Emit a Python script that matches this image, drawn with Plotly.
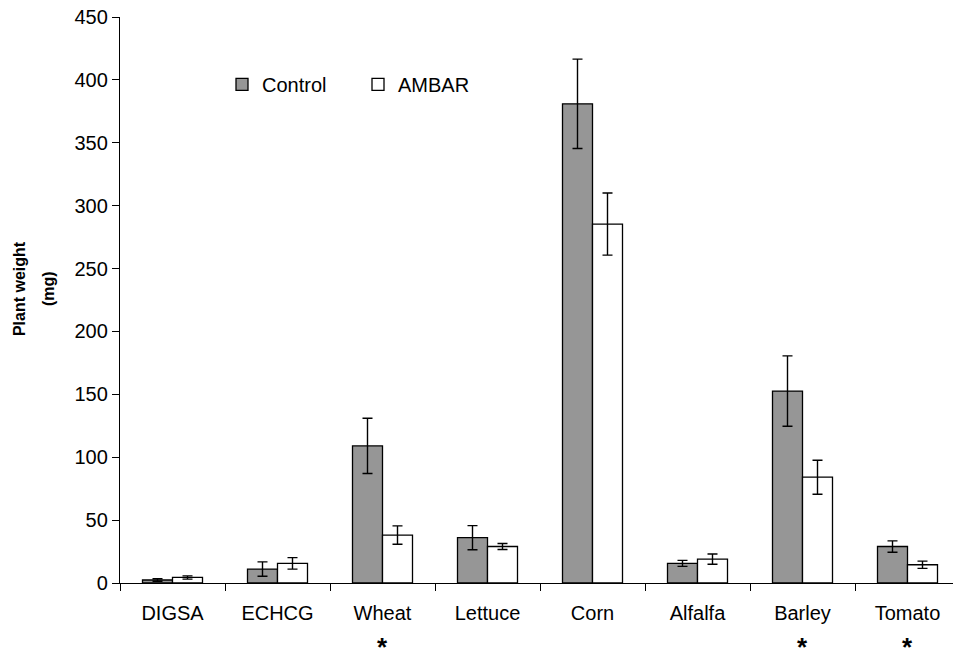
import plotly.graph_objects as go

# Plant weight (mg) per species, control vs AMBAR treatment, with error bars
species = ["DIGSA", "ECHCG", "Wheat", "Lettuce", "Corn", "Alfalfa", "Barley", "Tomato"]
control_mean = [2.4, 11.1, 109.0, 36.0, 381.0, 15.6, 152.6, 29.0]
control_err = [1.0, 5.7, 22.0, 9.6, 35.5, 2.4, 28.0, 4.5]
ambar_mean = [4.4, 15.6, 38.1, 29.0, 285.4, 19.0, 84.1, 14.5]
ambar_err = [1.3, 4.6, 7.3, 2.4, 24.7, 4.1, 13.5, 2.9]
significant = ["Wheat", "Barley", "Tomato"]
y_ticks = [0, 50, 100, 150, 200, 250, 300, 350, 400, 450]

FONT = "Liberation Sans, Arial, sans-serif"
W, H = 953, 652
ML, MR, MT, MB = 120, 0, 16.5, 68.7
plot_w = W - ML - MR
plot_h = H - MT - MB
cat_px = 105.0  # width of one category slot

err_style = dict(type="data", visible=True, color="black", thickness=1.4, width=5)

fig = go.Figure()
fig.add_trace(go.Bar(
    name="Control", x=species, y=control_mean,
    error_y=dict(array=control_err, **err_style),
    marker=dict(color="#969696", line=dict(color="black", width=1.3)),
))
fig.add_trace(go.Bar(
    name="AMBAR", x=species, y=ambar_mean,
    error_y=dict(array=ambar_err, **err_style),
    marker=dict(color="white", line=dict(color="black", width=1.3)),
))

# significance markers under the category labels
star_y = -(647 - (H - MB)) / plot_h
for s in significant:
    fig.add_annotation(
        x=s, xref="x", y=star_y, yref="paper",
        yanchor="middle", text="<b>*</b>", showarrow=False,
        font=dict(family=FONT, size=26, color="black"),
    )

# two-line y-axis title
for txt, px in (("<b>Plant weight</b>", 19.5), ("<b>(mg)</b>", 48.5)):
    fig.add_annotation(
        x=(px - ML) / plot_w, xref="paper", xanchor="center",
        y=(H - MB - 288.5) / plot_h, yref="paper", yanchor="middle",
        text=txt, textangle=-90, showarrow=False,
        font=dict(family=FONT, size=16, color="black"),
    )

fig.update_layout(
    width=W, height=H,
    margin=dict(l=ML, r=MR, t=MT, b=MB, pad=0),
    paper_bgcolor="white", plot_bgcolor="white",
    barmode="group", bargap=45 / 105, bargroupgap=0,
    font=dict(family=FONT, size=20, color="black"),
    showlegend=True,
    legend=dict(
        orientation="h", x=(222 - ML) / plot_w, xanchor="left",
        y=(H - MB - 84) / plot_h, yanchor="middle",
        bgcolor="rgba(0,0,0,0)", font=dict(family=FONT, size=20),
        entrywidth=91, entrywidthmode="pixels", itemclick=False,
    ),
    xaxis=dict(
        type="category", range=[-0.5, -0.5 + plot_w / cat_px],
        tickson="boundaries", ticks="outside", ticklen=7, tickwidth=1.3,
        tickcolor="black", showline=True, linecolor="black", linewidth=1.3,
        showgrid=False, zeroline=False, ticklabelstandoff=12,
        tickfont=dict(family=FONT, size=20),
    ),
    yaxis=dict(
        range=[0, 450], tickvals=y_ticks, ticks="outside", ticklen=7,
        tickwidth=1.3, tickcolor="black", showline=True, linecolor="black",
        linewidth=1.3, showgrid=False, zeroline=False,
        tickfont=dict(family=FONT, size=20),
    ),
)

fig.write_html("out.html")
